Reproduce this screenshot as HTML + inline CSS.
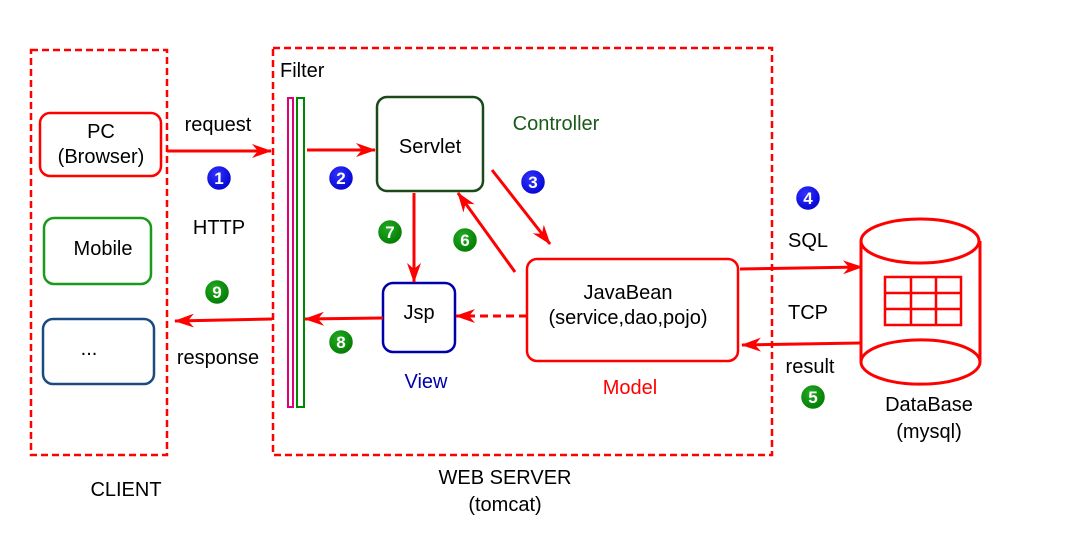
<!DOCTYPE html>
<html><head><style>body{margin:0;background:#fff}svg{display:block}text{font-family:"Liberation Sans",Arial,sans-serif;font-size:20px}</style></head><body>
<svg width="1092" height="559" viewBox="0 0 1092 559" xmlns="http://www.w3.org/2000/svg">
<defs>
<marker id="a" markerWidth="20" markerHeight="14" refX="19" refY="7" orient="auto" markerUnits="userSpaceOnUse"><path d="M0,0 L20,7 L0,14 L6,7 Z" fill="#f00"/></marker>
<radialGradient id="gb" cx="0.4" cy="0.35" r="0.7"><stop offset="0" stop-color="#33f"/><stop offset="1" stop-color="#00c"/></radialGradient>
<radialGradient id="gg" cx="0.4" cy="0.35" r="0.7"><stop offset="0" stop-color="#2a2"/><stop offset="1" stop-color="#070"/></radialGradient>
</defs>
<g fill="none" stroke="#f00" stroke-width="2.5" stroke-dasharray="7,4">
<rect x="31" y="50" width="136" height="405"/>
<rect x="273" y="48" width="499" height="407"/>
</g>
<rect x="40" y="113" width="121" height="63" rx="10" fill="none" stroke="#f00" stroke-width="2.5"/>
<rect x="44" y="218" width="107" height="66" rx="10" fill="none" stroke="#1a9a1a" stroke-width="2.5"/>
<rect x="43" y="319" width="111" height="65" rx="10" fill="none" stroke="#1a4a80" stroke-width="2.5"/>
<rect x="288" y="98" width="5" height="309" fill="none" stroke="#e0007a" stroke-width="2"/>
<rect x="297" y="98" width="7" height="309" fill="none" stroke="#080" stroke-width="2"/>
<rect x="377" y="97" width="106" height="94" rx="10" fill="none" stroke="#1a4a1a" stroke-width="2.5"/>
<rect x="383" y="283" width="72" height="69" rx="10" fill="none" stroke="#00a" stroke-width="2.5"/>
<rect x="527" y="259" width="211" height="102" rx="10" fill="none" stroke="#f00" stroke-width="2.5"/>
<g fill="none" stroke="#f00" stroke-width="3">
<path d="M861,241 V362"/><path d="M980,241 V362"/>
<ellipse cx="920" cy="241" rx="59" ry="22" fill="#fff"/>
<path d="M861,362 A59,22 0 0 0 980,362"/>
<path d="M861,362 A59,22 0 0 1 980,362"/>
</g>
<g fill="none" stroke="#f00" stroke-width="2.5">
<rect x="885" y="277" width="76" height="48"/>
<path d="M911,277V325M936,277V325M885,293H962M885,309H961"/>
</g>
<g stroke="#f00" stroke-width="3" fill="none" marker-end="url(#a)">
<path d="M167,151 H271"/>
<path d="M307,150 H375"/>
<path d="M492,170 L550,244"/>
<path d="M515,272 L458,193"/>
<path d="M414,193 V282"/>
<path d="M527,316 H456" stroke-dasharray="8,5"/>
<path d="M383,318 L305,319"/>
<path d="M272,319 L175,321"/>
<path d="M740,269 L862,267"/>
<path d="M860,343 L742,345"/>
</g>
<g font-weight="bold" text-anchor="middle">
<g fill="url(#gb)" stroke="#fff" stroke-width="2.5">
<circle cx="219" cy="178" r="13"/><circle cx="341" cy="178" r="13"/><circle cx="533" cy="182" r="13"/><circle cx="808" cy="198" r="13"/></g>
<g fill="url(#gg)" stroke="#fff" stroke-width="2.5">
<circle cx="813" cy="397" r="13"/><circle cx="465" cy="240" r="13"/><circle cx="390" cy="232" r="13"/><circle cx="341" cy="342" r="13"/><circle cx="217" cy="292" r="13"/></g>
<g fill="#fff">
<text x="219" y="184" style="font-size:17px">1</text><text x="341" y="184" style="font-size:17px">2</text><text x="533" y="188" style="font-size:17px">3</text><text x="808" y="204" style="font-size:17px">4</text><text x="813" y="403" style="font-size:17px">5</text><text x="465" y="246" style="font-size:17px">6</text><text x="390" y="238" style="font-size:17px">7</text><text x="341" y="348" style="font-size:17px">8</text><text x="217" y="298" style="font-size:17px">9</text>
</g></g>
<g text-anchor="middle" fill="#000">
<text x="101" y="138">PC</text><text x="101" y="163">(Browser)</text>
<text x="103" y="255">Mobile</text>
<text x="89" y="355">...</text>
<text x="430" y="153">Servlet</text>
<text x="419" y="319">Jsp</text>
<text x="628" y="299">JavaBean</text><text x="628" y="324">(service,dao,pojo)</text>
<text x="218" y="131">request</text><text x="219" y="234">HTTP</text><text x="218" y="364">response</text>
<text x="808" y="247">SQL</text><text x="808" y="319">TCP</text><text x="810" y="373">result</text>
<text x="929" y="411">DataBase</text><text x="929" y="438">(mysql)</text>
<text x="126" y="496">CLIENT</text>
<text x="505" y="484">WEB SERVER</text><text x="505" y="511">(tomcat)</text>
<text x="556" y="130" fill="#1a5a1a">Controller</text>
<text x="426" y="388" fill="#00a">View</text>
<text x="630" y="394" fill="#f00">Model</text>
</g>
<text x="280" y="77">Filter</text>
</svg>
</body></html>
